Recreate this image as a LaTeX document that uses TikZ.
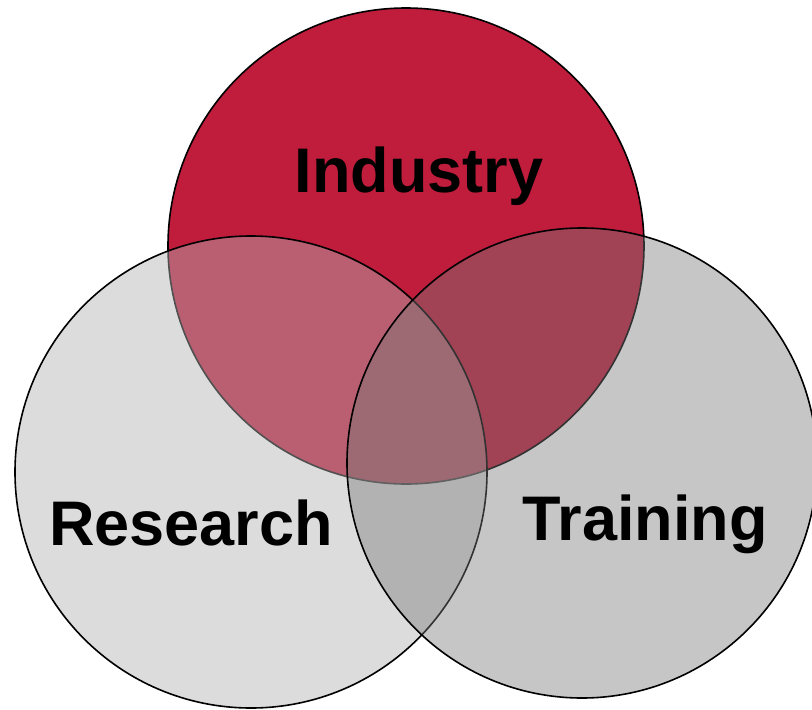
\documentclass[tikz,border=0pt]{standalone}
\usepackage{fontspec}
\setmainfont{Liberation Sans}
\definecolor{industryred}{RGB}{192,28,60}
\definecolor{areagray}{RGB}{120,120,120}
\tikzset{
  area/.style={draw=black,line width=1.6pt},
  areatext/.style={font=\fontsize{63}{70}\selectfont\bfseries,anchor=base,inner sep=0pt}
}
\begin{document}
\begin{tikzpicture}[x=1pt,y=-1pt]
\useasboundingbox (0,0) rectangle (812,710);
\clip (0,0) rectangle (812,710);
% industry
\draw [area,fill=industryred] (406,246) circle (238);
\node [areatext] (industry) at (419,192) {Industry};
%
% research
\draw [area,fill=gray!60,fill opacity=0.45] (251,472) circle (236);
\node [areatext] (research) at (191,545) {Research};
%
% training
\draw [area,fill=areagray,fill opacity=0.42] (582,463) circle (235);
\node [areatext] (training) at (645,540) {Training};
\end{tikzpicture}
\end{document}
